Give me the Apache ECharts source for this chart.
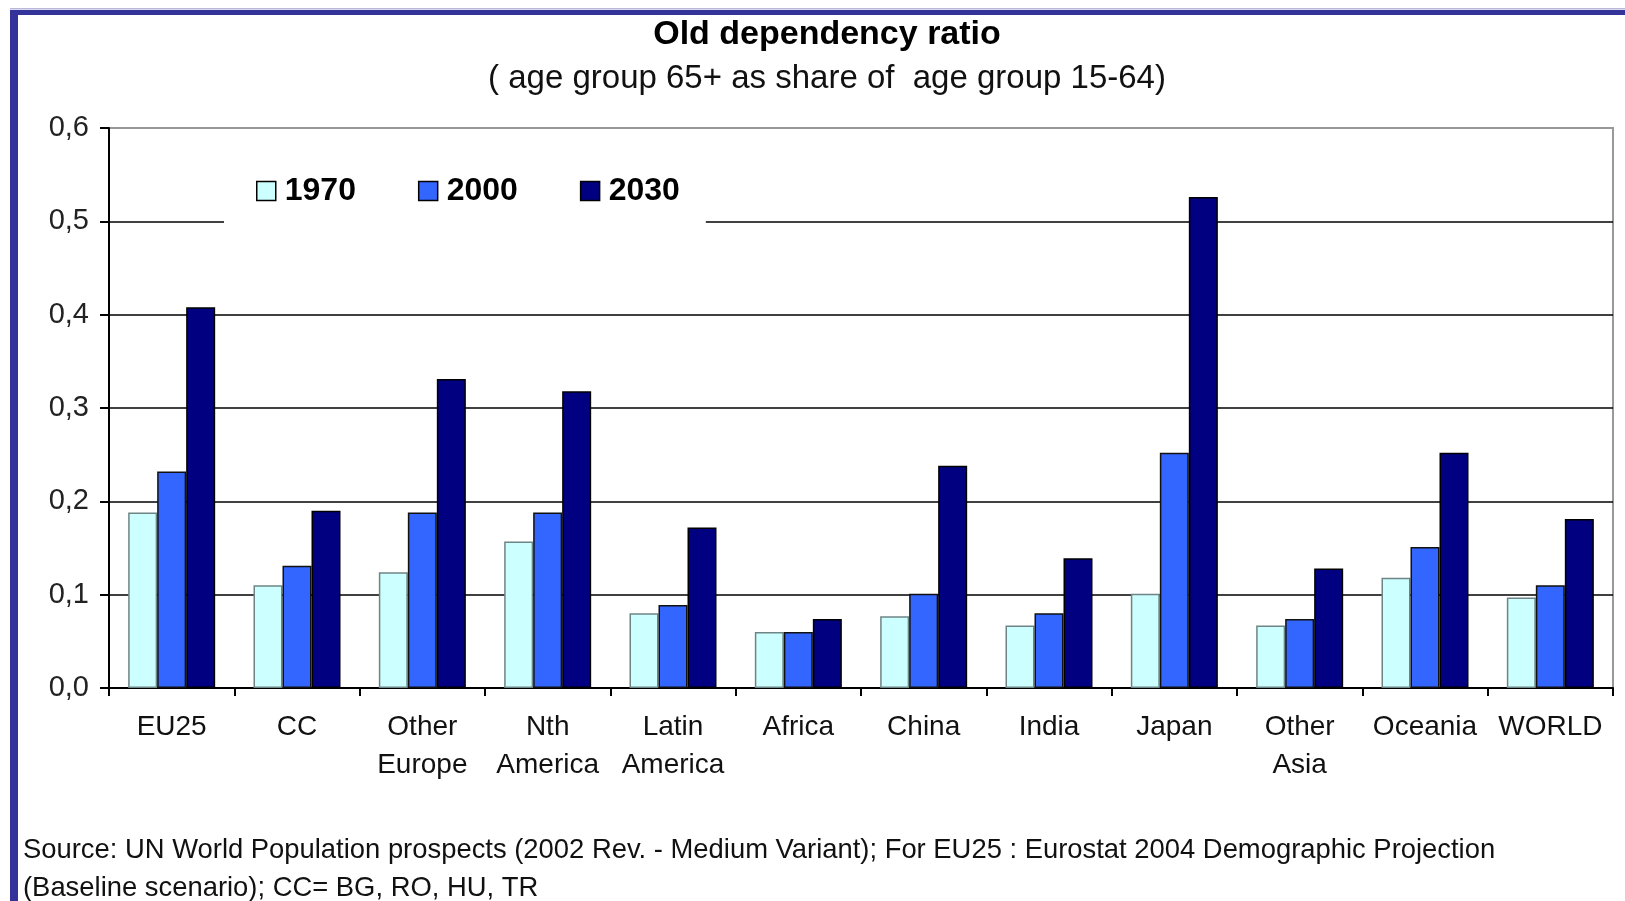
<!DOCTYPE html>
<html>
<head>
<meta charset="utf-8">
<script src="https://cdn.jsdelivr.net/npm/echarts@6/dist/echarts.min.js"></script>
<style>
html,body{margin:0;padding:0;background:#fff;}
#chart{width:1625px;height:901px;}
</style>
</head>
<body>
<div id="chart"></div>
<script>
const categories = ['EU25', 'CC', 'Other\nEurope', 'Nth\nAmerica', 'Latin\nAmerica', 'Africa', 'China', 'India', 'Japan', 'Other\nAsia', 'Oceania', 'WORLD'];
const seriesNames = ['1970', '2000', '2030'];
const values1970 = [0.188, 0.110, 0.124, 0.157, 0.080, 0.060, 0.077, 0.067, 0.101, 0.067, 0.118, 0.097];
const values2000 = [0.232, 0.131, 0.188, 0.188, 0.089, 0.060, 0.101, 0.080, 0.252, 0.074, 0.151, 0.110];
const values2030 = [0.408, 0.190, 0.331, 0.318, 0.172, 0.074, 0.238, 0.139, 0.526, 0.128, 0.252, 0.181];
const yTickLabels = ['0,0', '0,1', '0,2', '0,3', '0,4', '0,5', '0,6'];
const titleText = 'Old dependency ratio';
const subtitleText = '( age group 65+ as share of  age group 15-64)';
const sourceLines = ['Source: UN World Population prospects (2002 Rev. - Medium Variant); For EU25 : Eurostat 2004 Demographic Projection', '(Baseline scenario); CC= BG, RO, HU, TR'];

const FONT = '"Liberation Sans", Arial, sans-serif';
const chart = echarts.init(document.getElementById('chart'), null, {renderer: 'canvas'});

function barSeries(name, data, color, border) {
  return {
    name: name,
    type: 'bar',
    data: data,
    barWidth: 29,
    barGap: '0%',
    itemStyle: {color: color, borderColor: border, borderWidth: 1.5},
    emphasis: {disabled: true}
  };
}

chart.setOption({
  animation: false,
  backgroundColor: '#fff',
  textStyle: {fontFamily: FONT},
  graphic: [
    {type: 'rect', shape: {x: 10, y: 10, width: 1615, height: 5}, style: {fill: '#333399'}, z: 10},
    {type: 'rect', shape: {x: 10, y: 10, width: 8, height: 891}, style: {fill: '#333399'}, z: 10},
    {type: 'rect', shape: {x: 10, y: 8, width: 1615, height: 1.5}, style: {fill: '#b8b8dc'}, z: 10},
    {type: 'text', left: 23, top: 837, style: {text: sourceLines[0], font: '27.4px ' + FONT, fill: '#111'}},
    {type: 'text', left: 23, top: 875, style: {text: sourceLines[1], font: '27.4px ' + FONT, fill: '#111'}}
  ],
  title: [
    {text: titleText, left: 822, textAlign: 'center', top: 13,
     textStyle: {fontSize: 34, fontWeight: 'bold', color: '#000', fontFamily: FONT}},
    {text: subtitleText, left: 822, textAlign: 'center', top: 57,
     textStyle: {fontSize: 33, fontWeight: 'normal', color: '#111', fontFamily: FONT}}
  ],
  legend: {
    data: seriesNames,
    left: 224,
    top: 159,
    orient: 'horizontal',
    padding: [16, 26, 32, 32],
    backgroundColor: '#fff',
    itemWidth: 19,
    itemHeight: 19,
    itemGap: 62,
    icon: 'rect',
    itemStyle: {borderColor: '#000', borderWidth: 1.5},
    textStyle: {fontSize: 32, fontWeight: 'bold', color: '#000', fontFamily: FONT, padding: [0, 0, 0, 4]},
    selectedMode: false,
    z: 5
  },
  grid: {
    left: 109, right: 12, top: 128, bottom: 213,
    show: true, borderColor: '#999', borderWidth: 2, backgroundColor: 'transparent'
  },
  xAxis: {
    type: 'category',
    data: categories,
    axisLine: {lineStyle: {color: '#000', width: 2}},
    axisTick: {show: true, alignWithLabel: false, length: 8, lineStyle: {color: '#000', width: 2}},
    axisLabel: {fontSize: 28, color: '#111', margin: 20, lineHeight: 38, fontFamily: FONT, interval: 0},
    splitLine: {show: false}
  },
  yAxis: {
    type: 'value',
    min: 0, max: 0.6, interval: 0.1,
    axisLine: {show: true, lineStyle: {color: '#000', width: 2}},
    axisTick: {show: true, length: 9, lineStyle: {color: '#000', width: 2}},
    axisLabel: {fontSize: 29, color: '#222', margin: 20, fontFamily: FONT,
      formatter: function (v) { return yTickLabels[Math.round(v * 10)]; }},
    splitLine: {show: true, lineStyle: {color: ['#000', '#000', '#000', '#000', '#000', '#000', '#999'], width: 1.5}}
  },
  series: [
    barSeries(seriesNames[0], values1970, '#CCFFFF', '#6f8585'),
    barSeries(seriesNames[1], values2000, '#3366FF', '#111'),
    barSeries(seriesNames[2], values2030, '#000080', '#000')
  ]
});
</script>
</body>
</html>
